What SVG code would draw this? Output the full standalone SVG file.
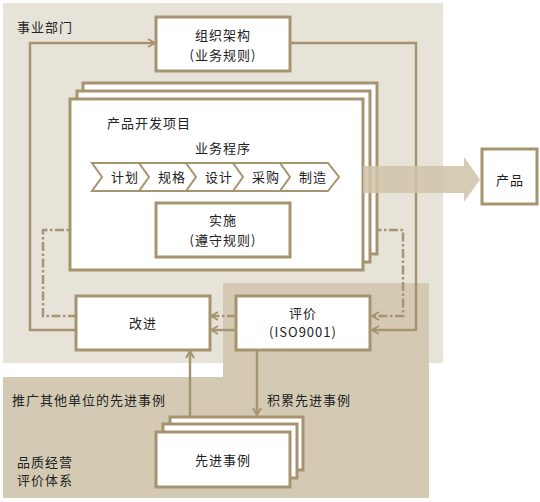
<svg xmlns="http://www.w3.org/2000/svg" width="540" height="502" viewBox="0 0 540 502">
<defs>
<style>
.t{font-family:"Noto Sans CJK SC","Noto Sans",sans-serif;font-size:13px;fill:#222;letter-spacing:1px}
.c{text-anchor:middle}
.box{fill:#fff;stroke:#A69470;stroke-width:3}
.chev{fill:#fff;stroke:#A69470;stroke-width:2}
.ln{fill:none;stroke:#A69470;stroke-width:2.5}
.dd{fill:none;stroke:#A69470;stroke-width:2.5;stroke-dasharray:9 2.5 2.5 2.5}
</style>
<marker id="ah" viewBox="0 0 10 10" refX="9" refY="5" markerWidth="10" markerHeight="10" markerUnits="userSpaceOnUse" orient="auto">
<path d="M2,1 L9,5 L2,9" fill="none" stroke="#A69470" stroke-width="2"/>
</marker>
</defs>
<g id="panels">
<rect x="3" y="3" width="440" height="360" fill="#E8E3D9"/>
<path d="M223,283 H429 V498 H3 V377 H223 Z" fill="#D4CAB4"/>
</g>
<g id="panel-labels">
<text class="t" x="17" y="32">事业部门</text>
<text class="t" x="17" y="467">品质经营</text>
<text class="t" x="17" y="485">评价体系</text>
</g>
<g id="connectors">
<path class="ln" d="M77,330 H30 V43 H155" marker-end="url(#ah)"/>
<path class="ln" d="M290,43 H416 V330 H372" marker-end="url(#ah)"/>
<path class="dd" d="M77,316 H43 V230 H155" marker-end="url(#ah)"/>
<path class="dd" d="M290,230 H403 V316 H372" marker-end="url(#ah)"/>
<path class="dd" d="M236,316 H211" marker-end="url(#ah)"/>
<path class="ln" d="M236,330 H211" marker-end="url(#ah)"/>
<path class="ln" d="M190,417 V351" marker-end="url(#ah)"/>
<path class="ln" d="M257,350 V415" marker-end="url(#ah)"/>
</g>
<g id="org">
<rect class="box" x="156" y="17" width="134" height="54"/>
<text class="t c" x="223" y="40">组织架构</text>
<text class="t c" x="223" y="60">(业务规则)</text>
</g>
<g id="project">
<rect class="box" x="83" y="83" width="294" height="171"/>
<rect class="box" x="77" y="91" width="293" height="171"/>
<rect class="box" x="70" y="99" width="293" height="171"/>
<text class="t" x="107" y="128">产品开发项目</text>
<text class="t c" x="223" y="153">业务程序</text>
</g>
<g id="process">
<polygon class="chev" points="92,163 140,163 150,177 140,191 92,191 102,177"/>
<polygon class="chev" points="139,163 187,163 197,177 187,191 139,191 149,177"/>
<polygon class="chev" points="186,163 234,163 244,177 234,191 186,191 196,177"/>
<polygon class="chev" points="233,163 281,163 291,177 281,191 233,191 243,177"/>
<polygon class="chev" points="280,163 328,163 339,177 328,191 280,191 290,177"/>
<text class="t c" x="125" y="182">计划</text>
<text class="t c" x="172" y="182">规格</text>
<text class="t c" x="219" y="182">设计</text>
<text class="t c" x="266" y="182">采购</text>
<text class="t c" x="313" y="182">制造</text>
</g>
<g id="impl">
<rect class="box" x="156" y="203" width="134" height="54"/>
<text class="t c" x="223" y="225">实施</text>
<text class="t c" x="223" y="245">(遵守规则)</text>
</g>
<g id="bigarrow">
<path d="M363,166 H464 V157 L480,179.5 L464,202 V193 H363 Z" fill="#CFC3A8" opacity="0.85"/>
</g>
<g id="product">
<rect class="box" x="482" y="149" width="55" height="55"/>
<text class="t c" x="510" y="185">产品</text>
</g>
<g id="improve">
<rect class="box" x="76" y="296" width="134" height="54"/>
<text class="t c" x="143" y="328">改进</text>
</g>
<g id="eval">
<rect class="box" x="236" y="296" width="134" height="54"/>
<text class="t c" x="303" y="318">评价</text>
<text class="t c" x="303" y="337">(ISO9001)</text>
</g>
<g id="cases">
<rect class="box" x="170" y="417" width="133" height="53"/>
<rect class="box" x="163" y="424" width="134" height="54"/>
<rect class="box" x="156" y="432" width="134" height="55"/>
<text class="t c" x="223" y="465">先进事例</text>
</g>
<g id="labels">
<text class="t" x="12" y="405">推广其他单位的先进事例</text>
<text class="t" x="267" y="405">积累先进事例</text>
</g>
</svg>
